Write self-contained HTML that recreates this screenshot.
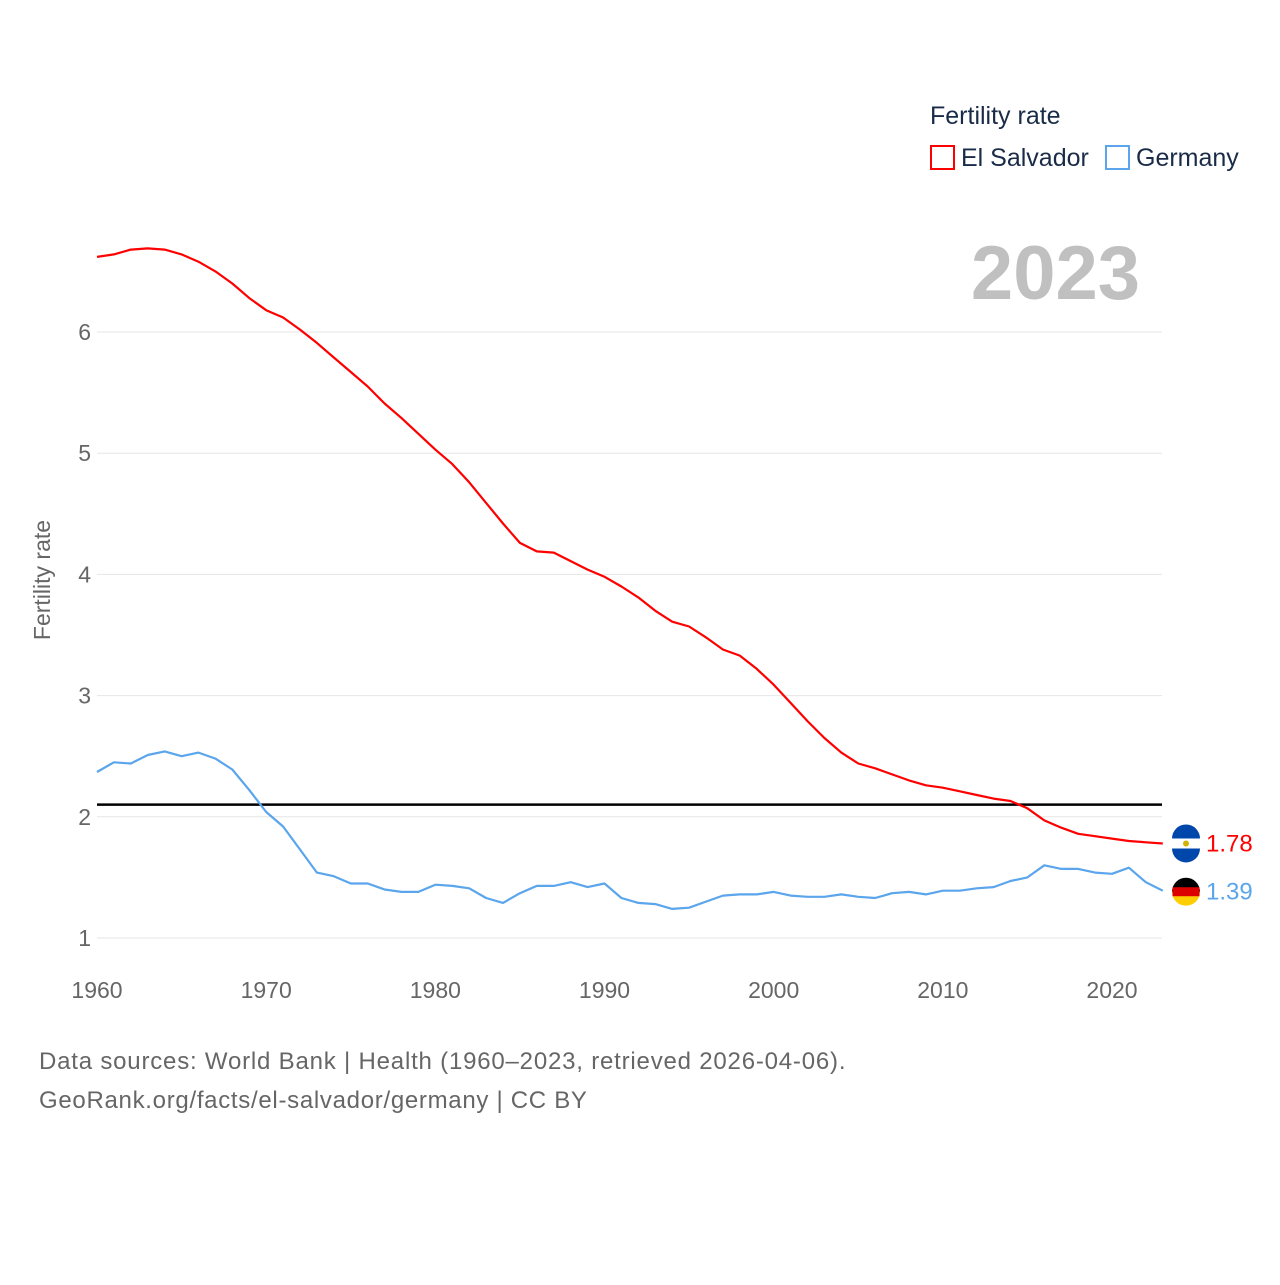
<!DOCTYPE html>
<html><head><meta charset="utf-8"><style>
body{margin:0;background:#fff;}
svg text{font-family:"Liberation Sans",sans-serif;}
</style></head><body>
<svg id="chart" width="1280" height="1280" viewBox="0 0 1280 1280" xmlns="http://www.w3.org/2000/svg">
<g id="grid"></g>
<g id="yticks"></g>
<g id="xticks"></g>
<text x="50" y="580" transform="rotate(-90 50 580)" text-anchor="middle" font-size="23" fill="#666">Fertility rate</text>
<text x="1140" y="299" text-anchor="end" font-size="76" font-weight="bold" fill="#c0c0c0">2023</text>
<text x="930" y="124" font-size="25" fill="#1a2b48">Fertility rate</text>
<rect x="931" y="146" width="23" height="23" fill="none" stroke="#f00" stroke-width="2"/>
<text x="961" y="166" font-size="25" fill="#1a2b48">El Salvador</text>
<rect x="1106" y="146" width="23" height="23" fill="none" stroke="#5aa5eb" stroke-width="2"/>
<text x="1136" y="166" font-size="25" fill="#1a2b48">Germany</text>
<g id="series"></g>
<text x="39" y="1069" font-size="24" letter-spacing="0.8" fill="#666">Data sources: World Bank | Health (1960–2023, retrieved 2026-04-06).</text>
<text x="39" y="1108" font-size="24" letter-spacing="0.7" fill="#666">GeoRank.org/facts/el-salvador/germany | CC BY</text>
</svg>
<script>
const years = Array.from({length:64},(_,i)=>1960+i);
const elSalvador = [6.62,6.64,6.68,6.69,6.68,6.64,6.58,6.50,6.40,6.28,6.18,6.12,6.02,5.91,5.79,5.67,5.55,5.41,5.29,5.16,5.03,4.91,4.76,4.59,4.42,4.26,4.19,4.18,4.11,4.04,3.98,3.90,3.81,3.70,3.61,3.57,3.48,3.38,3.33,3.22,3.09,2.94,2.79,2.65,2.53,2.44,2.40,2.35,2.30,2.26,2.24,2.21,2.18,2.15,2.13,2.07,1.97,1.91,1.86,1.84,1.82,1.80,1.79,1.78];
const germany = [2.37,2.45,2.44,2.51,2.54,2.50,2.53,2.48,2.39,2.22,2.04,1.92,1.73,1.54,1.51,1.45,1.45,1.40,1.38,1.38,1.44,1.43,1.41,1.33,1.29,1.37,1.43,1.43,1.46,1.42,1.45,1.33,1.29,1.28,1.24,1.25,1.30,1.35,1.36,1.36,1.38,1.35,1.34,1.34,1.36,1.34,1.33,1.37,1.38,1.36,1.39,1.39,1.41,1.42,1.47,1.50,1.60,1.57,1.57,1.54,1.53,1.58,1.46,1.39];
const yTicks = [1,2,3,4,5,6];
const xTicks = [1960,1970,1980,1990,2000,2010,2020];
const replacement = 2.1;
const X = y => 97 + (y-1960)*(1015/60);
const Y = v => 938 - (v-1)*121.2;
const NS="http://www.w3.org/2000/svg";
function mk(parent, tag, attrs){const e=document.createElementNS(NS,tag);for(const k in attrs)e.setAttribute(k,attrs[k]);document.getElementById(parent).appendChild(e);return e;}
yTicks.forEach(t=>{
  const l=mk('grid','line',{x1:97,x2:1162,y1:Y(t),y2:Y(t),stroke:'#e6e6e6','stroke-width':1});
  
  
  const tx=mk('yticks','text',{x:91,y:Y(t)+8,'text-anchor':'end','font-size':23,fill:'#666'});
  tx.textContent=t;
  
  
});
xTicks.forEach(t=>{
  const tx=mk('xticks','text',{x:X(t),y:998,'text-anchor':'middle','font-size':23,fill:'#666'});
  tx.textContent=t;
  
  
});
const ref=mk('series','line',{x1:97,x2:1162,y1:Y(replacement),y2:Y(replacement),stroke:'#000','stroke-width':2.5});


function drawLine(vals,color,name){
  const d=vals.map((v,i)=>(i?'L':'M')+X(years[i]).toFixed(1)+','+Y(v).toFixed(1)).join('');
  const p=mk('series','path',{d:d,fill:'none',stroke:color,'stroke-width':2.2,'stroke-linejoin':'round'});
  
  
}
drawLine(elSalvador,'#f00','line-el-salvador');
drawLine(germany,'#5aa5eb','line-germany');
const lastES=elSalvador[elSalvador.length-1], lastDE=germany[germany.length-1];
const yES=Y(lastES), yDE=Y(lastDE)+1;
let c=mk('series','circle',{cx:1186,cy:yES,r:14,fill:'#fff'});


let r1=mk('series','path',{d:`M1172,${yES-5} A14,14 0 0 1 1200,${yES-5} Z`,fill:'#0047ab'});


let r2=mk('series','path',{d:`M1172,${yES+5} A14,14 0 0 0 1200,${yES+5} Z`,fill:'#0047ab'});


let em=mk('series','circle',{cx:1186,cy:yES,r:3,fill:'#d4b000'});


let g1=mk('series','path',{d:`M1172,${yDE} A14,14 0 0 1 1200,${yDE} Z`,fill:'#000'});


let g2=mk('series','path',{d:`M1172,${yDE} A14,14 0 0 0 1200,${yDE} Z`,fill:'#ffce00'});


let g3=mk('series','rect',{x:1172.5,y:yDE-4.5,width:27,height:9,fill:'#dd0000'});


let t1=mk('series','text',{x:1206,y:yES+8,'font-size':24,fill:'#f00'});
t1.textContent=lastES.toFixed(2);


let t2=mk('series','text',{x:1206,y:yDE+8,'font-size':24,fill:'#5aa5eb'});
t2.textContent=lastDE.toFixed(2);


</script>
</body></html>
